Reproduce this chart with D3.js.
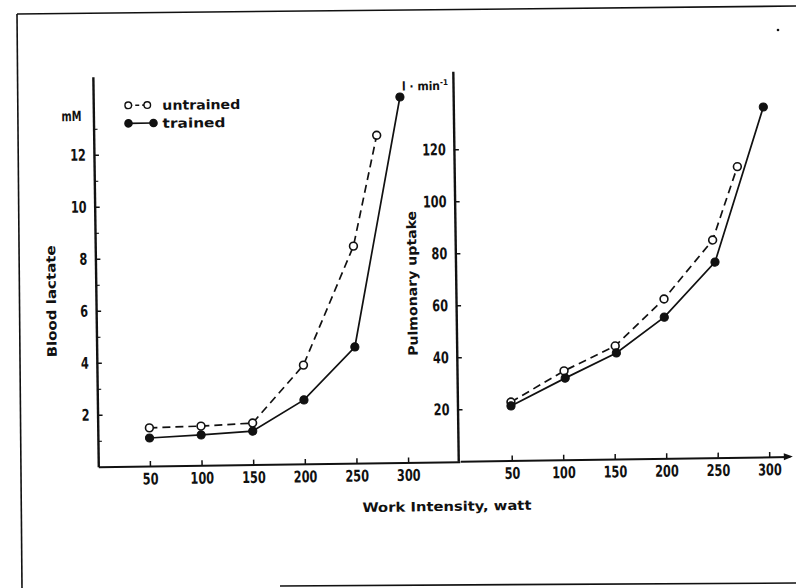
<!DOCTYPE html>
<html>
<head>
<meta charset="utf-8">
<script src="https://cdn.jsdelivr.net/npm/d3@7/dist/d3.min.js"></script>
<style>
  html, body { margin: 0; padding: 0; background: #fff; }
  svg { display: block; }
  .tick text { font-family: "DejaVu Sans Condensed", "DejaVu Sans", sans-serif; font-weight: bold; font-size: 14px; fill: #111; }
  .lbl { font-family: "DejaVu Sans Condensed", "DejaVu Sans", sans-serif; font-weight: bold; fill: #111; }
</style>
</head>
<body>
<svg id="chart" width="796" height="588"></svg>
<script>
// ---------- data ----------
const xTicks = [50, 100, 150, 200, 250, 300];
const lactateTicks = [2, 4, 6, 8, 10, 12];
const lactateMinorTicks = [1, 3, 5, 7, 9, 11, 13];
const uptakeTicks = [20, 40, 60, 80, 100, 120];

const lactateUntrainedW = [50, 100, 150, 200, 250, 274];
const lactateUntrained  = [1.47, 1.51, 1.6, 3.8, 8.35, 12.6];
const lactateTrainedW   = [50, 100, 150, 200, 250, 297];
const lactateTrained    = [1.08, 1.17, 1.29, 2.46, 4.47, 14.06];

const uptakeUntrainedW  = [50, 102, 152, 200, 248, 273];
const uptakeUntrained   = [22.5, 34.2, 43.5, 61.3, 83.7, 111.8];
const uptakeTrainedW    = [50, 103, 153, 200, 250, 299];
const uptakeTrained     = [21, 31.4, 40.8, 54.3, 75.2, 134.6];

const seriesNames = ["untrained", "trained"];

// ---------- drawing ----------
const svg = d3.select("#chart");
const ink = "#111";

// scanned page frame
const frame = svg.append("g").attr("stroke", ink).attr("fill", "none");
frame.append("path").attr("d", "M17,14 L796,6").attr("stroke-width", 1.6);
frame.append("path").attr("d", "M17,14 L22,588").attr("stroke-width", 1.6);
frame.append("path").attr("d", "M280,586 L796,583").attr("stroke-width", 1.6);
svg.append("circle").attr("cx", 778).attr("cy", 30).attr("r", 1.3).attr("fill", ink);

const g = svg.append("g").attr("transform", "rotate(-0.8, 440, 300)");

// scales
const xL = d3.scaleLinear().domain([0, 350]).range([96, 457.5]);
const yL = d3.scaleLinear().domain([0, 15]).range([462, 72]);
const xR = d3.scaleLinear().domain([0, 320]).range([458, 787.6]);
const yR = d3.scaleLinear().domain([0, 150]).range([461.5, 71.5]);

function styleAxis(sel, w) {
  sel.select(".domain").attr("stroke", ink).attr("stroke-width", w);
  sel.selectAll(".tick line").attr("stroke", ink).attr("stroke-width", 1.5);
  sel.selectAll(".tick text").attr("transform", "scale(0.9,1.15)");
}

// left panel axes
g.append("g").attr("transform", `translate(0,${yL(0)})`)
  .call(d3.axisBottom(xL).tickValues(xTicks).tickSize(-5).tickSizeOuter(0).tickPadding(6))
  .call(s => styleAxis(s, 2));
g.append("g").attr("transform", `translate(${xL(0)},0)`)
  .call(d3.axisLeft(yL).tickValues(lactateMinorTicks).tickFormat("").tickSize(-4).tickSizeOuter(0))
  .call(s => { s.select(".domain").remove(); s.selectAll(".tick line").attr("stroke", ink).attr("stroke-width", 1.2); });
g.append("g").attr("transform", `translate(${xL(0)},0)`)
  .call(d3.axisLeft(yL).tickValues(lactateTicks).tickSize(-5).tickSizeOuter(0).tickPadding(9))
  .call(s => styleAxis(s, 2.4));

// right panel axes
const rightAxisX = 456;
g.append("g").attr("transform", `translate(0,${yR(0)})`)
  .call(d3.axisBottom(xR).tickValues(xTicks).tickSize(-5).tickSizeOuter(0).tickPadding(6))
  .call(s => styleAxis(s, 2));
g.append("g").attr("transform", `translate(${rightAxisX},0)`)
  .call(d3.axisLeft(yR).tickValues(uptakeTicks).tickSize(-5).tickSizeOuter(0).tickPadding(9))
  .call(s => styleAxis(s, 2.4));

// arrow at end of right x-axis
const ax = xR.range()[1], ay = yR(0);
g.append("path").attr("d", `M${ax + 3},${ay} L${ax - 6},${ay - 3.5} L${ax - 6},${ay + 3.5} Z`).attr("fill", ink);

// series
function drawSeries(xs, xsW, ys, vals, dashed, open) {
  const pts = xsW.map((w, i) => [xs(w), ys(vals[i])]);
  g.append("path")
    .attr("d", d3.line()(pts))
    .attr("fill", "none")
    .attr("stroke", ink)
    .attr("stroke-width", 1.7)
    .attr("stroke-dasharray", dashed ? "8,5" : null);
  g.selectAll(null).data(pts).enter().append("circle")
    .attr("cx", d => d[0]).attr("cy", d => d[1])
    .attr("r", open ? 3.9 : 4.1)
    .attr("fill", open ? "#fff" : ink)
    .attr("stroke", ink)
    .attr("stroke-width", open ? 1.6 : 1);
}
drawSeries(xL, lactateUntrainedW, yL, lactateUntrained, true, true);
drawSeries(xL, lactateTrainedW, yL, lactateTrained, false, false);
drawSeries(xR, uptakeUntrainedW, yR, uptakeUntrained, true, true);
drawSeries(xR, uptakeTrainedW, yR, uptakeTrained, false, false);

// labels
function label(txt, x, y, size, len, rot) {
  const t = g.append("text").attr("class", "lbl")
    .attr("x", x).attr("y", y)
    .attr("font-size", size)
    .attr("text-anchor", "middle")
    .attr("textLength", len).attr("lengthAdjust", "spacingAndGlyphs")
    .text(txt);
  if (rot) t.attr("transform", `rotate(-90, ${x}, ${y})`);
  return t;
}
label("Blood lactate", 56, 296, 13, 112, true);
label("Pulmonary uptake", 417, 283, 13, 145, true);
label("Work Intensity, watt", 444, 511, 13, 169, false);
label("mM", 74, 116, 14, 20, false);

// l·min-1 unit
const unit = g.append("text").attr("class", "lbl").attr("x", 405).attr("y", 90).attr("font-size", 12);
unit.append("tspan").text("l · min");
unit.append("tspan").attr("dy", -5).attr("font-size", 8).text("-1");

// legend
const leg = g.append("g");
[0, 1].forEach(i => {
  const y = 101 + i * 18;
  const x1 = 131, x2 = i === 0 ? 150 : 156;
  leg.append("line").attr("x1", x1).attr("x2", x2).attr("y1", y).attr("y2", y)
    .attr("stroke", ink).attr("stroke-width", 1.6)
    .attr("stroke-dasharray", i === 0 ? "4,3" : null);
  [x1, x2].forEach(cx => leg.append("circle").attr("cx", cx).attr("cy", y)
    .attr("r", i === 0 ? 3.3 : 3.6)
    .attr("fill", i === 0 ? "#fff" : ink).attr("stroke", ink).attr("stroke-width", 1.4));
  leg.append("text").attr("class", "lbl").attr("x", 165).attr("y", y + 5)
    .attr("font-size", 13)
    .attr("textLength", i === 0 ? 78 : 63).attr("lengthAdjust", "spacingAndGlyphs")
    .text(seriesNames[i]);
});
</script>
</body>
</html>
